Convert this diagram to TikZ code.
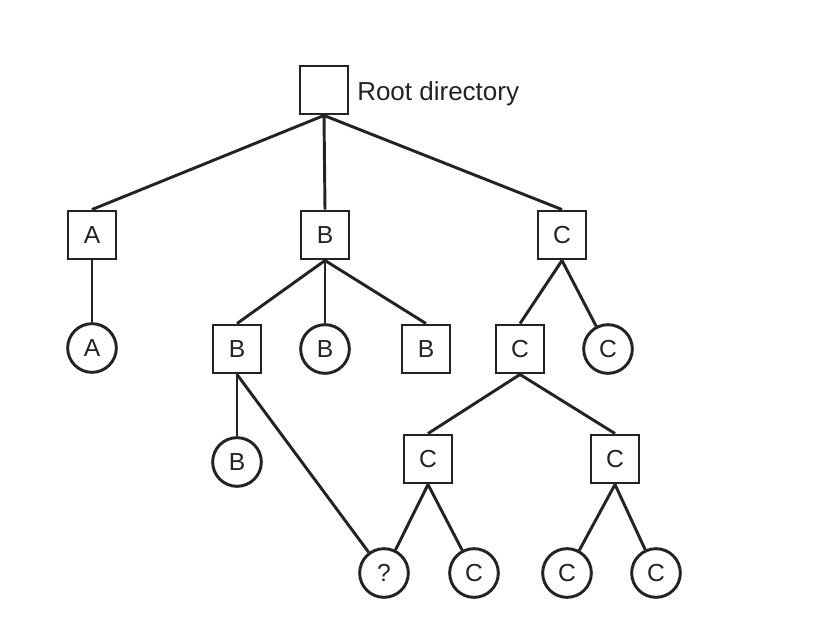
\documentclass[tikz,border=0pt]{standalone}
\usepackage{fontspec}
\setmainfont{Liberation Sans}
\usepackage{tikz}
\definecolor{inkgray}{RGB}{35,35,35}
\tikzset{
  dirbox/.style={draw=inkgray,line width=2.2pt,minimum width=36pt,minimum height=36pt,inner sep=0pt,font=\fontsize{18.5}{20}\selectfont,text=inkgray},
  filecirc/.style={draw=inkgray,line width=2.2pt,circle,minimum size=36.5pt,inner sep=0pt,font=\fontsize{18.5}{20}\selectfont,text=inkgray},
  link/.style={draw=inkgray,line width=2.2pt}
}
\begin{document}
\begin{tikzpicture}[x=0.75pt,y=0.75pt,yscale=-1,xscale=1]
\useasboundingbox (0,0) rectangle (814,642);

% Directories
\node[dirbox] (root) at (324,90) {};
\node[dirbox] (dA) at (92,235) {A};
\node[dirbox] (dB) at (325,235) {B};
\node[dirbox] (dC) at (562,235) {C};
\node[dirbox] (dBB) at (237,349) {B};
\node[dirbox] (dBBB) at (426,349) {B};
\node[dirbox] (dCC) at (520,349) {C};
\node[dirbox] (dCCl) at (428,459) {C};
\node[dirbox] (dCCr) at (615,459) {C};

% Files
\node[filecirc] (fA) at (92,348) {A};
\node[filecirc] (fB) at (325,349) {B};
\node[filecirc] (fC) at (608,349) {C};
\node[filecirc] (fBB) at (237,462) {B};
\node[filecirc] (fq) at (384,573) {?};
\node[filecirc] (fCl) at (474,573) {C};
\node[filecirc] (fCm) at (567,573) {C};
\node[filecirc] (fCr) at (656,573) {C};

% Text Node
\node[anchor=base west,inner sep=0pt,font=\fontsize{19.5}{22}\selectfont,text=inkgray] (rootlbl) at (357,100) {Root directory};

% Links
\draw[link] (root.south) -- (dA.north);
\draw[link] (root.south) -- (dB.north);
\draw[link] (root.south) -- (dC.north);
\draw[link] (dA.south) -- (fA);
\draw[link] (dB.south) -- (dBB.north);
\draw[link] (dB.south) -- (fB);
\draw[link] (dB.south) -- (dBBB.north);
\draw[link] (dC.south) -- (dCC.north);
\draw[link] (dC.south) -- (fC);
\draw[link] (dBB.south) -- (fBB);
\draw[link] (dBB.south) -- (fq);
\draw[link] (dCC.south) -- (dCCl.north);
\draw[link] (dCC.south) -- (dCCr.north);
\draw[link] (dCCl.south) -- (fq);
\draw[link] (dCCl.south) -- (fCl);
\draw[link] (dCCr.south) -- (fCm);
\draw[link] (dCCr.south) -- (fCr);

\end{tikzpicture}
\end{document}
